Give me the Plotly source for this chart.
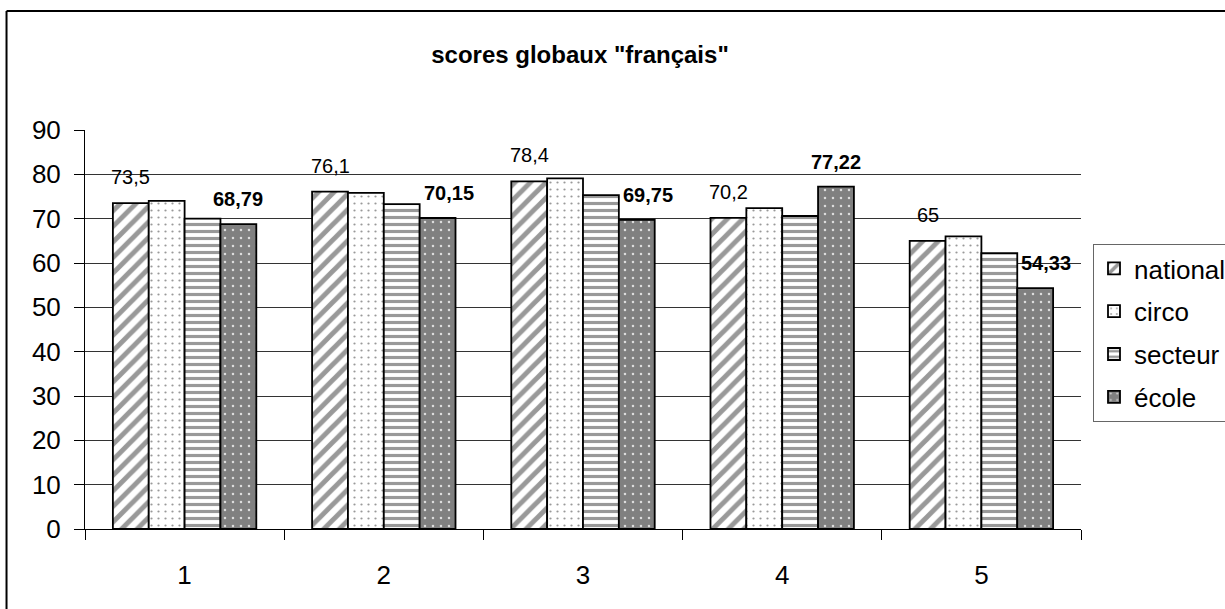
import plotly.graph_objects as go

categories = ["1", "2", "3", "4", "5"]
national = [73.5, 76.1, 78.4, 70.2, 65]
circo = [74, 75.8, 79.1, 72.4, 66]
secteur = [70, 73.3, 75.3, 70.6, 62.2]
ecole = [68.79, 70.15, 69.75, 77.22, 54.33]

national_labels = ["73,5", "76,1", "78,4", "70,2", "65"]
ecole_labels = ["68,79", "70,15", "69,75", "77,22", "54,33"]

FONT = "Liberation Sans, Arial, sans-serif"
BARGAP = 0.28

fig = go.Figure()

styles = [
    ("national", national, dict(shape="/", bgcolor="white", fgcolor="#999999", size=11, solidity=0.45)),
    ("circo", circo, dict(shape=".", bgcolor="white", fgcolor="#999999", size=7, solidity=0.08)),
    ("secteur", secteur, dict(shape="-", bgcolor="white", fgcolor="#999999", size=7, solidity=0.45)),
    ("école", ecole, dict(shape=".", bgcolor="#808080", fgcolor="#dddddd", size=8, solidity=0.08)),
]

for i, (name, vals, pat) in enumerate(styles):
    fig.add_trace(go.Bar(
        x=categories, y=vals, name=name, legendgroup=name,
        marker=dict(color=pat["bgcolor"], line=dict(color="black", width=1.8),
                    pattern=dict(fillmode="replace", **pat)),
    ))

bw = (1 - BARGAP) / 4
annotations = []
for j in range(len(categories)):
    annotations.append(dict(x=j - 1.5 * bw, y=national[j], xref="x", yref="y",
                            text=national_labels[j], showarrow=False, yanchor="bottom",
                            yshift=13, font=dict(family=FONT, size=20, color="black")))
    # label nudged right when it would collide with the neighbouring (taller) bar
    nudge = 11 if secteur[j] > ecole[j] + 2.5 else 0
    annotations.append(dict(x=j + 1.5 * bw, y=ecole[j], xref="x", yref="y",
                            text="<b>" + ecole_labels[j] + "</b>", showarrow=False, yanchor="bottom",
                            yshift=12, xshift=nudge, font=dict(family=FONT, size=20, color="black")))

W, H = 1225, 609
LEG_X = 1093
L, T, B = 85, 130, 80
R = 150 - (W - LEG_X) + 7
pw, ph = W - L - 150, H - T - B
bx = (7 - L) / pw
by = (H - B - 11) / ph

fig.update_layout(
    width=W, height=H,
    margin=dict(l=L, r=R, t=T, b=B),
    paper_bgcolor="white", plot_bgcolor="white",
    barmode="group", bargap=BARGAP, bargroupgap=0,
    title=dict(text='<b>scores globaux "français"</b>', xref="container",
               x=(L + L + pw) / 2 / W, xanchor="center",
               y=1 - 55 / H, yanchor="middle",
               font=dict(family=FONT, size=24, color="black")),
    font=dict(family=FONT, size=26, color="black"),
    xaxis=dict(type="category", showline=True, linecolor="black", linewidth=1,
               ticks="outside", tickson="boundaries", ticklen=10, tickcolor="black",
               ticklabelstandoff=23, showgrid=False,
               tickfont=dict(family=FONT, size=26, color="black")),
    yaxis=dict(range=[0, 90], dtick=10, showline=True, linecolor="black", linewidth=1,
               ticks="outside", ticklen=10, tickcolor="black", ticklabelstandoff=8,
               showgrid=True, gridcolor="#333333", gridwidth=1, zeroline=False,
               tickfont=dict(family=FONT, size=26, color="black")),
    legend=dict(xref="container", yref="container",
                x=LEG_X / W, y=1 - 244 / H, xanchor="left", yanchor="top",
                bordercolor="#666666", borderwidth=1, bgcolor="white",
                font=dict(family=FONT, size=26, color="black"),
                tracegroupgap=6, itemwidth=30),
    annotations=annotations,
    shapes=[
        dict(type="line", xref="paper", yref="paper", x0=bx, x1=1.3, y0=by, y1=by,
             line=dict(color="black", width=2)),
        dict(type="line", xref="paper", yref="paper", x0=bx, x1=bx, y0=by, y1=-0.3,
             line=dict(color="black", width=2)),
    ],
)

fig.write_html("out.html", config={"displayModeBar": False},
               post_script="document.body.style.margin='0';document.body.style.overflow='hidden';")
